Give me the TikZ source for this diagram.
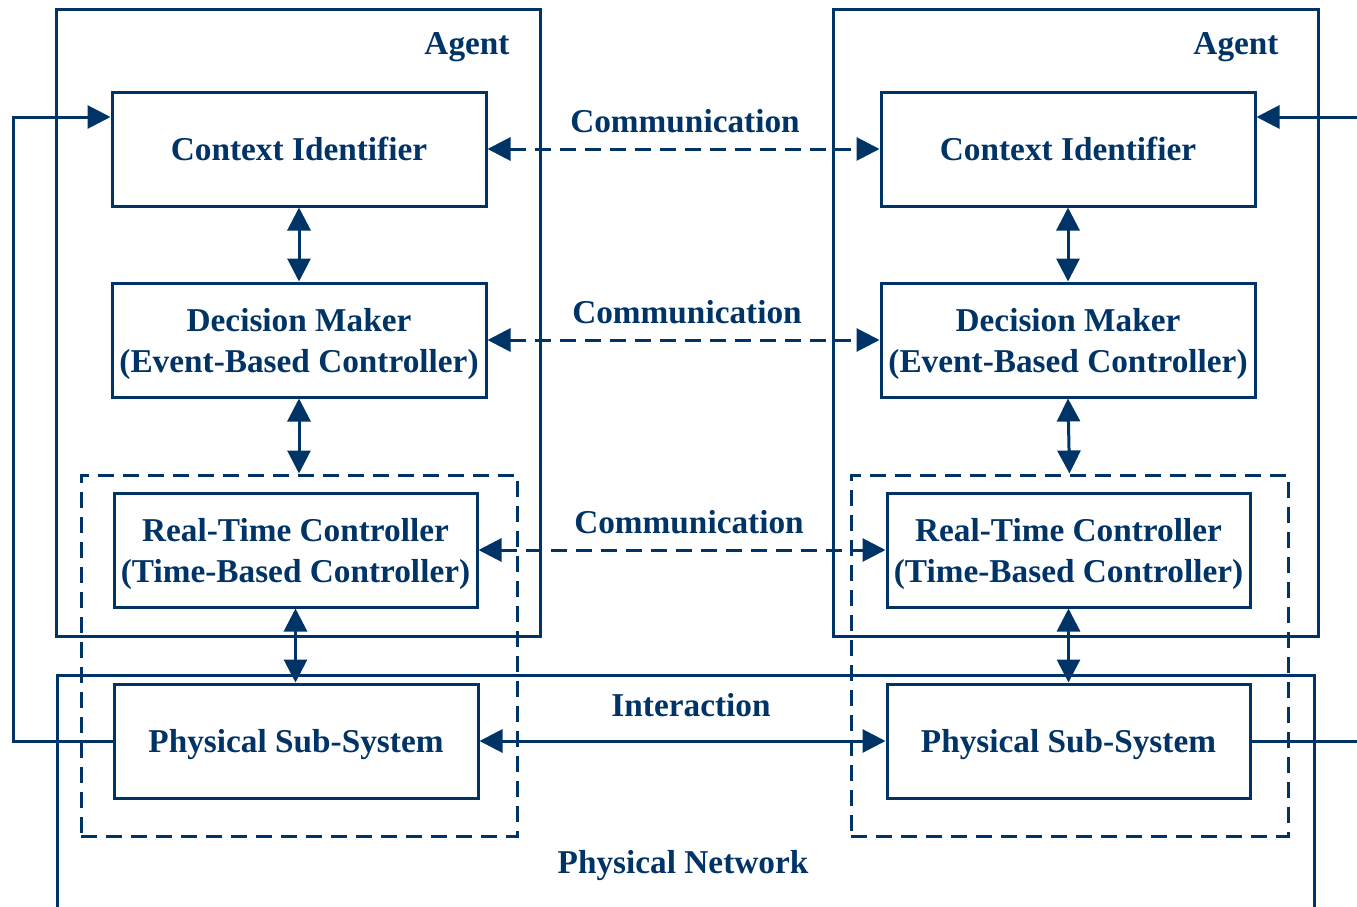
\documentclass[tikz,border=0pt]{standalone}
\usepackage{fontspec}
\setmainfont{Liberation Serif}
\usetikzlibrary{arrows.meta}
\definecolor{navy}{RGB}{0,51,102}
\tikzset{
  ln/.style={draw=navy, line width=3pt},
  blk/.style={ln, rectangle, inner sep=0pt, minimum height=114pt, align=center,
              text=navy, text depth=0pt, font=\fontsize{33.3}{41}\selectfont\bfseries},
  frame/.style={ln, rectangle, inner sep=0pt},
  dframe/.style={ln, rectangle, inner sep=0pt, dash pattern=on 16pt off 9pt},
  lbl/.style={text=navy, text depth=0pt, font=\fontsize{33.3}{41}\selectfont\bfseries, inner sep=0pt},
  tip/.style={-{Triangle[length=23pt,width=23pt]}},
  bitip/.style={{Triangle[length=23pt,width=23pt]}-{Triangle[length=23pt,width=23pt]}},
  dashln/.style={dash pattern=on 16pt off 9pt},
}
\begin{document}
\begin{tikzpicture}[x=1pt, y=-1pt]
\useasboundingbox (0,0) rectangle (1357,907);

% agent frames
\node[frame, minimum width=484pt, minimum height=626pt] (lag) at (298,323) {};
\node[frame, minimum width=485pt, minimum height=626pt] (rag) at (1075.5,323) {};
\node[lbl] (laglbl) at (467,44) {Agent};
\node[lbl] (raglbl) at (1236,44) {Agent};

% dashed controller groups
\node[dframe, minimum width=436pt, minimum height=361pt] (ldash) at (299,655.5) {};
\node[dframe, minimum width=437pt, minimum height=361pt] (rdash) at (1069.5,655.5) {};

% physical network (open at the bottom)
\coordinate (pnbl) at (57,907);
\coordinate (pntl) at (57,675);
\coordinate (pntr) at (1314,675);
\coordinate (pnbr) at (1314,907);
\draw[ln] (pnbl) -- (pntl) -- (pntr) -- (pnbr);
\node[lbl] (pnlbl) at (683,862) {Physical Network};

% blocks, left agent
\node[blk, fill=white, minimum width=374pt] (lci) at (299,149) {Context Identifier};
\node[blk, fill=white, minimum width=374pt] (ldm) at (299,340) {Decision Maker\\(Event-Based Controller)};
\node[blk, fill=white, minimum width=363pt] (lrtc) at (295.5,550) {Real-Time Controller\\(Time-Based Controller)};
\node[blk, fill=white, minimum width=364pt] (lpss) at (296,741) {Physical Sub-System};

% blocks, right agent
\node[blk, fill=white, minimum width=374pt] (rci) at (1068,149) {Context Identifier};
\node[blk, fill=white, minimum width=374pt] (rdm) at (1068,340) {Decision Maker\\(Event-Based Controller)};
\node[blk, fill=white, minimum width=363pt] (rrtc) at (1068.5,550) {Real-Time Controller\\(Time-Based Controller)};
\node[blk, fill=white, minimum width=363pt] (rpss) at (1068.5,741) {Physical Sub-System};

% vertical links inside each agent
\draw[ln, bitip] (lci.south) -- (ldm.north);
\draw[ln, bitip] (ldm.south) -- (ldm.south |- ldash.north);
\draw[ln, bitip] (lrtc.south) -- (lrtc.south |- lpss.north);
\draw[ln, bitip] (rci.south) -- (rdm.north);
\draw[ln, bitip] (rdm.south) -- (rdash.north);
\draw[ln, bitip] (rrtc.south) -- (rrtc.south |- rpss.north);

% communication between agents
\draw[ln, bitip, dashln] (lci.east) -- (rci.west);
\draw[ln, bitip, dashln] (ldm.east) -- (rdm.west);
\draw[ln, bitip, dashln] (lrtc.east) -- (rrtc.west);
\node[lbl] (c1) at (685,121) {Communication};
\node[lbl] (c2) at (687,312) {Communication};
\node[lbl] (c3) at (689,522) {Communication};

% physical interaction
\draw[ln, bitip] (lpss.east) -- (rpss.west);
\node[lbl] (il) at (691,705) {Interaction};

% feedback paths
\coordinate (lcorner) at (13,741);
\draw[ln, tip] (lpss.west) -- (lcorner) |- ([yshift=32pt]lci.west);
\coordinate (rin) at (1357,117);
\coordinate (rout) at (1357,741);
\draw[ln, tip] (rin) -- (rci.east |- rin);
\draw[ln] (rpss.east) -- (rout);
\end{tikzpicture}
\end{document}
